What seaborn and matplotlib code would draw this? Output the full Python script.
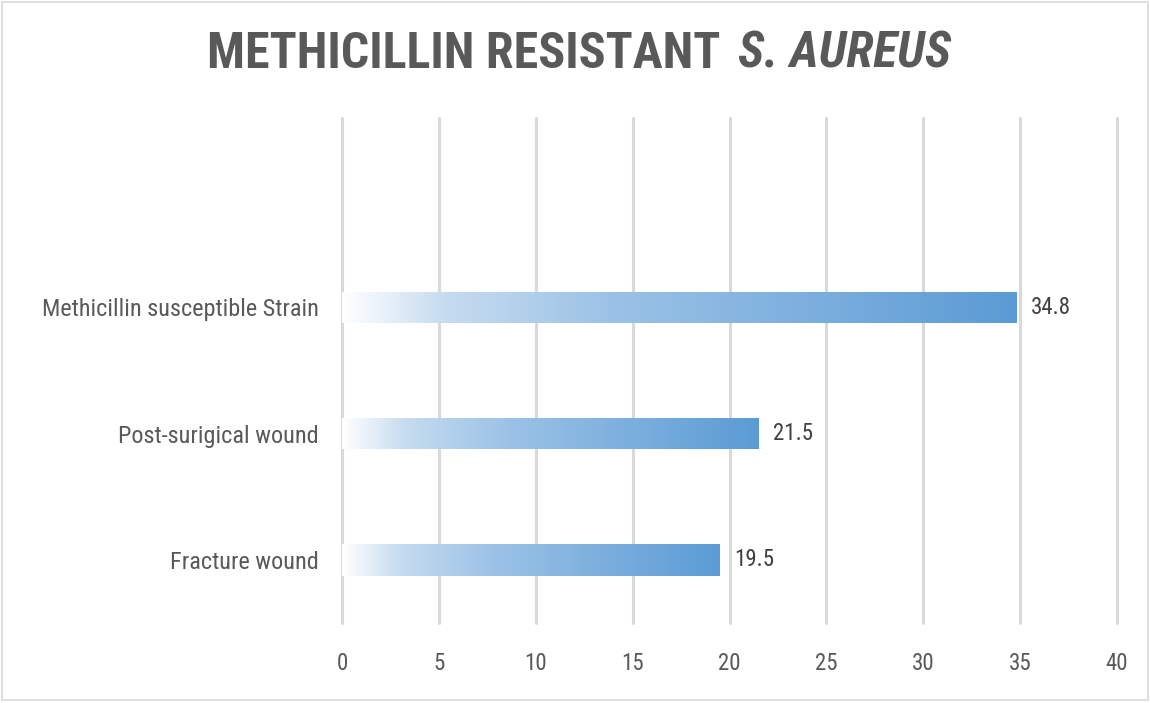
import numpy as np
import pandas as pd
import matplotlib
matplotlib.use("Agg")
import matplotlib.pyplot as plt
from matplotlib.colors import LinearSegmentedColormap
from matplotlib.patches import Rectangle
from matplotlib import font_manager
import seaborn as sns

# chart data
categories = ["Methicillin susceptible Strain", "Post-surigical wound", "Fracture wound"]
values = [34.8, 21.5, 19.5]
x_ticks = [0, 5, 10, 15, 20, 25, 30, 35, 40]

sns.set_style("white")
names = {f.name for f in font_manager.fontManager.ttflist}
cands = ['Roboto Condensed', 'Sofia Sans Condensed', 'Saira Condensed',
         'Liberation Sans Narrow', 'Open Sans Condensed']
narrow = [c for c in cands if c in names]
plt.rcParams['font.family'] = narrow[:1] + ['DejaVu Sans']

df = pd.DataFrame({'Category': categories, 'Value': values})

fig = plt.figure(figsize=(11.5, 7.03), dpi=100)
ax = fig.add_axes([0.2974, 0.1138, 0.6739, 0.7182])

# empty slot on top, like the original chart
order = [""] + categories
sns.barplot(data=df, x='Value', y='Category', order=order, orient='h',
            width=0.25, color='#5B9BD5', ax=ax, zorder=3)

# gradient fill: white -> blue along each bar
cmap = LinearSegmentedColormap.from_list(
    'grad', [(0, '#FFFFFF'), (0.15, '#C6DCF0'), (0.4, '#9BC2E6'), (1, '#5B9BD5')])
grad = np.linspace(0, 1, 256).reshape(1, -1)
for p in ax.patches:
    if p.get_width() <= 0:
        continue
    x0, y0 = p.get_x(), p.get_y()
    w, h = p.get_width(), p.get_height()
    p.set_facecolor('none')
    p.set_edgecolor('none')
    im = ax.imshow(grad, cmap=cmap, aspect='auto', zorder=3,
                   extent=[x0, x0 + w, y0 + h, y0], interpolation='bicubic')
    im.set_clip_path(p)
    ax.text(x0 + w + 0.75, y0 + h / 2, f"{w:.1f}", va='center', ha='left',
            fontsize=16.5, color='#404040')

ax.set_xlim(0, 40)
ax.set_ylim(3.5, -0.5)
ax.set_xticks(x_ticks)
ax.set_xticklabels([str(t) for t in x_ticks])
ax.grid(axis='x', color='#D9D9D9', linewidth=2.2, zorder=0)
for gl in ax.get_xgridlines():
    gl.set_clip_on(False)
ax.set_axisbelow(True)
for s in ax.spines.values():
    s.set_visible(False)
ax.tick_params(axis='both', length=0, labelcolor='#595959')
ax.tick_params(axis='x', pad=21, labelsize=16.5)
ax.tick_params(axis='y', pad=17, labelsize=17.5)
ax.set_xlabel('')
ax.set_ylabel('')

# title in two parts (italic species name)
fig.text(0.626, 0.923, "METHICILLIN RESISTANT", ha='right', va='center',
         fontsize=36, fontweight='bold', color='#595959')
fig.text(0.642, 0.923, "S. AUREUS", ha='left', va='center',
         fontsize=36, fontweight='bold', fontstyle='italic', color='#595959')

# light chart border
fig.patches.append(Rectangle((0.002, 0.004), 0.996, 0.993, transform=fig.transFigure,
                             fill=False, edgecolor='#D9D9D9', linewidth=1.2))

fig.savefig('out.png', dpi=100, facecolor='white')
